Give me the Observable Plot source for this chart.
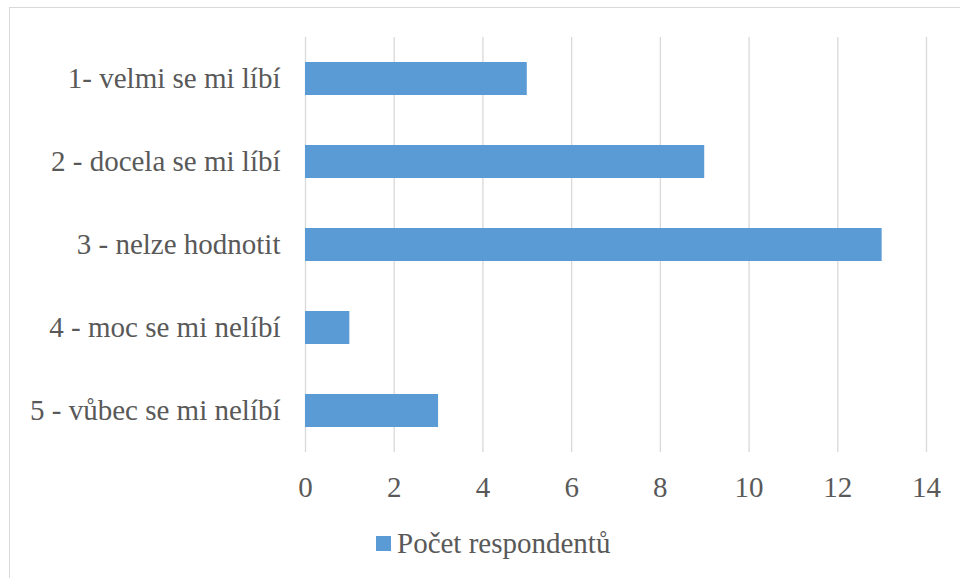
<!DOCTYPE html>
<html>
<head>
<meta charset="utf-8">
<script src="https://cdn.jsdelivr.net/npm/d3@7"></script>
<script src="https://cdn.jsdelivr.net/npm/@observablehq/plot@0.6"></script>
</head>
<body style="margin:0;padding:0;font-size:29px;color:#595959">
<div id="wrap" style="margin:7px 0 0 9px;border-left:1px solid #d9d9d9;border-top:1px solid #d9d9d9;width:950px;height:570px;font-family:'Liberation Serif'">
  <div id="chart"></div>
  <div id="legend" style="margin:15px 0 0 366px;height:36px;display:flex;align-items:center;white-space:nowrap;font-family:'Liberation Serif'"><span id="sw" style="display:inline-block;width:15px;height:15px;margin-right:6px;background:#5B9BD5"></span><span id="lt" style="font-family:'Liberation Serif'">Počet respondentů</span></div>
</div>
<script>
const categories = ["1- velmi se mi líbí", "2 - docela se mi líbí", "3 - nelze hodnotit", "4 - moc se mi nelíbí", "5 - vůbec se mi nelíbí"];
const values = [5, 9, 13, 1, 3];
const xTicks = [0, 2, 4, 6, 8, 10, 12, 14];
const seriesName = "Počet respondentů";
const barColor = "#5B9BD5";

const data = categories.map((c, i) => ({category: c, value: values[i]}));

const chart = Plot.plot({
  width: 950,
  height: 502,
  marginLeft: 295,
  marginRight: 34,
  marginTop: 29,
  marginBottom: 58,
  style: {fontFamily: "Liberation Serif", fontSize: "29px"},
  x: {domain: [0, 14], ticks: xTicks, tickSize: 0, tickPadding: 24, label: null},
  y: {domain: categories, paddingInner: 0.6, paddingOuter: 0.3, tickSize: 0, tickPadding: 25, label: null},
  marks: [
    Plot.gridX(xTicks, {stroke: "#d9d9d9", strokeOpacity: 1, strokeWidth: 1.3}),
    Plot.barX(data, {x: "value", y: "category", fill: barColor}),
    Plot.axisX({ticks: xTicks, tickSize: 0, tickPadding: 24, fill: "#595959", fontSize: 29, fontFamily: "Liberation Serif"}),
    Plot.axisY({tickSize: 0, tickPadding: 25, fill: "#595959", fontSize: 29, fontFamily: "Liberation Serif"})
  ]
});
document.getElementById("chart").appendChild(chart);
document.getElementById("sw").style.background = barColor;
document.getElementById("lt").textContent = seriesName;
</script>
</body>
</html>
